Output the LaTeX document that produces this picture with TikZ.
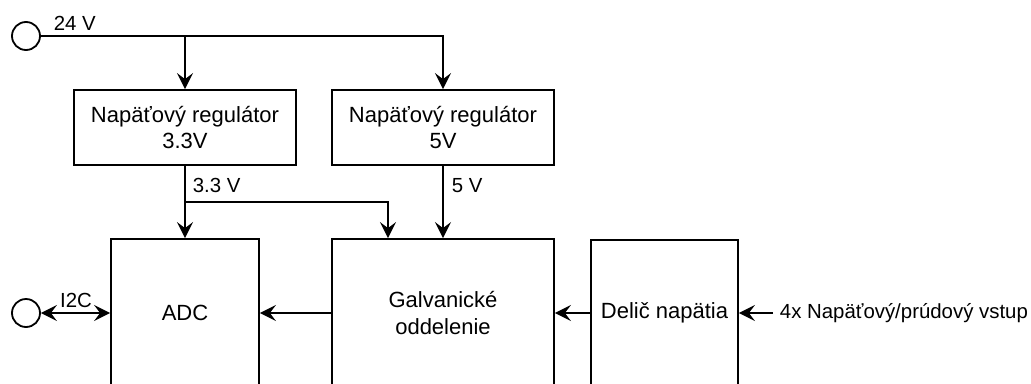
\documentclass[tikz,border=0pt]{standalone}
\usepackage{fontspec}
\setmainfont{Liberation Sans}
\usetikzlibrary{arrows.meta}
\begin{document}
\begin{tikzpicture}[x=1pt,y=-1pt,
  line width=1.8pt,
  arr/.style={-{Stealth[length=16pt,width=16pt,inset=6pt]}},
  darr/.style={{Stealth[length=16pt,width=16pt,inset=6pt]}-{Stealth[length=16pt,width=16pt,inset=6pt]}},
  blk/.style={draw,line width=1.8pt,align=center,inner sep=0pt,font=\fontsize{22}{26.5}\selectfont},
  term/.style={draw,circle,line width=1.8pt,minimum size=28pt,inner sep=0pt},
  lbl/.style={inner sep=0pt,font=\fontsize{20.4}{24}\selectfont}]
\useasboundingbox (0,0) rectangle (1031,383);
\clip (0,0) rectangle (1031,383);
\node[term] (c24) at (26,36) {};
\node[term] (ci2c) at (26,313) {};
\node[blk,minimum width=222pt,minimum height=75pt] (reg1) at (185,127.5) {Napäťový regulátor\\3.3V};
\node[blk,minimum width=222pt,minimum height=75pt] (reg2) at (443,127.5) {Napäťový regulátor\\5V};
\node[blk,minimum width=148pt,minimum height=148pt] (adc) at (185,313) {ADC};
\node[blk,minimum width=222pt,minimum height=148pt] (galv) at (443,313) {Galvanické\\oddelenie};
\node[blk,minimum width=147pt,minimum height=146pt] (del) at (664.5,313) {Delič napätia};
\node[lbl,anchor=west] (inp) at (779,313) {4x Napäťový/prúdový vstup};
\coordinate (j1) at (reg1.north |- c24.east);
\coordinate (j3) at (185,202);
\coordinate (g1) at ([xshift=-55pt]galv.north);
\draw[arr] (c24.east) -| (reg2.north);
\draw[arr] (j1) -- (reg1.north);
\draw[arr] (reg1.south) -- (adc.north);
\draw[arr] (j3) -| (g1);
\draw[arr] (reg2.south) -- (galv.north);
\draw[arr] (galv.west) -- (adc.east);
\draw[arr] (del.west) -- (galv.east);
\draw[arr] ([xshift=-6pt]inp.west) -- (del.east);
\draw[darr] (ci2c.east) -- (adc.west);
\node[lbl,anchor=base west] (l24) at (53,30) {24 V};
\node[lbl,anchor=base west] (l33) at (192,192) {3.3 V};
\node[lbl,anchor=base west] (l5) at (451,192) {5 V};
\node[lbl,anchor=base] (li2c) at (76,307) {I2C};
\end{tikzpicture}
\end{document}
